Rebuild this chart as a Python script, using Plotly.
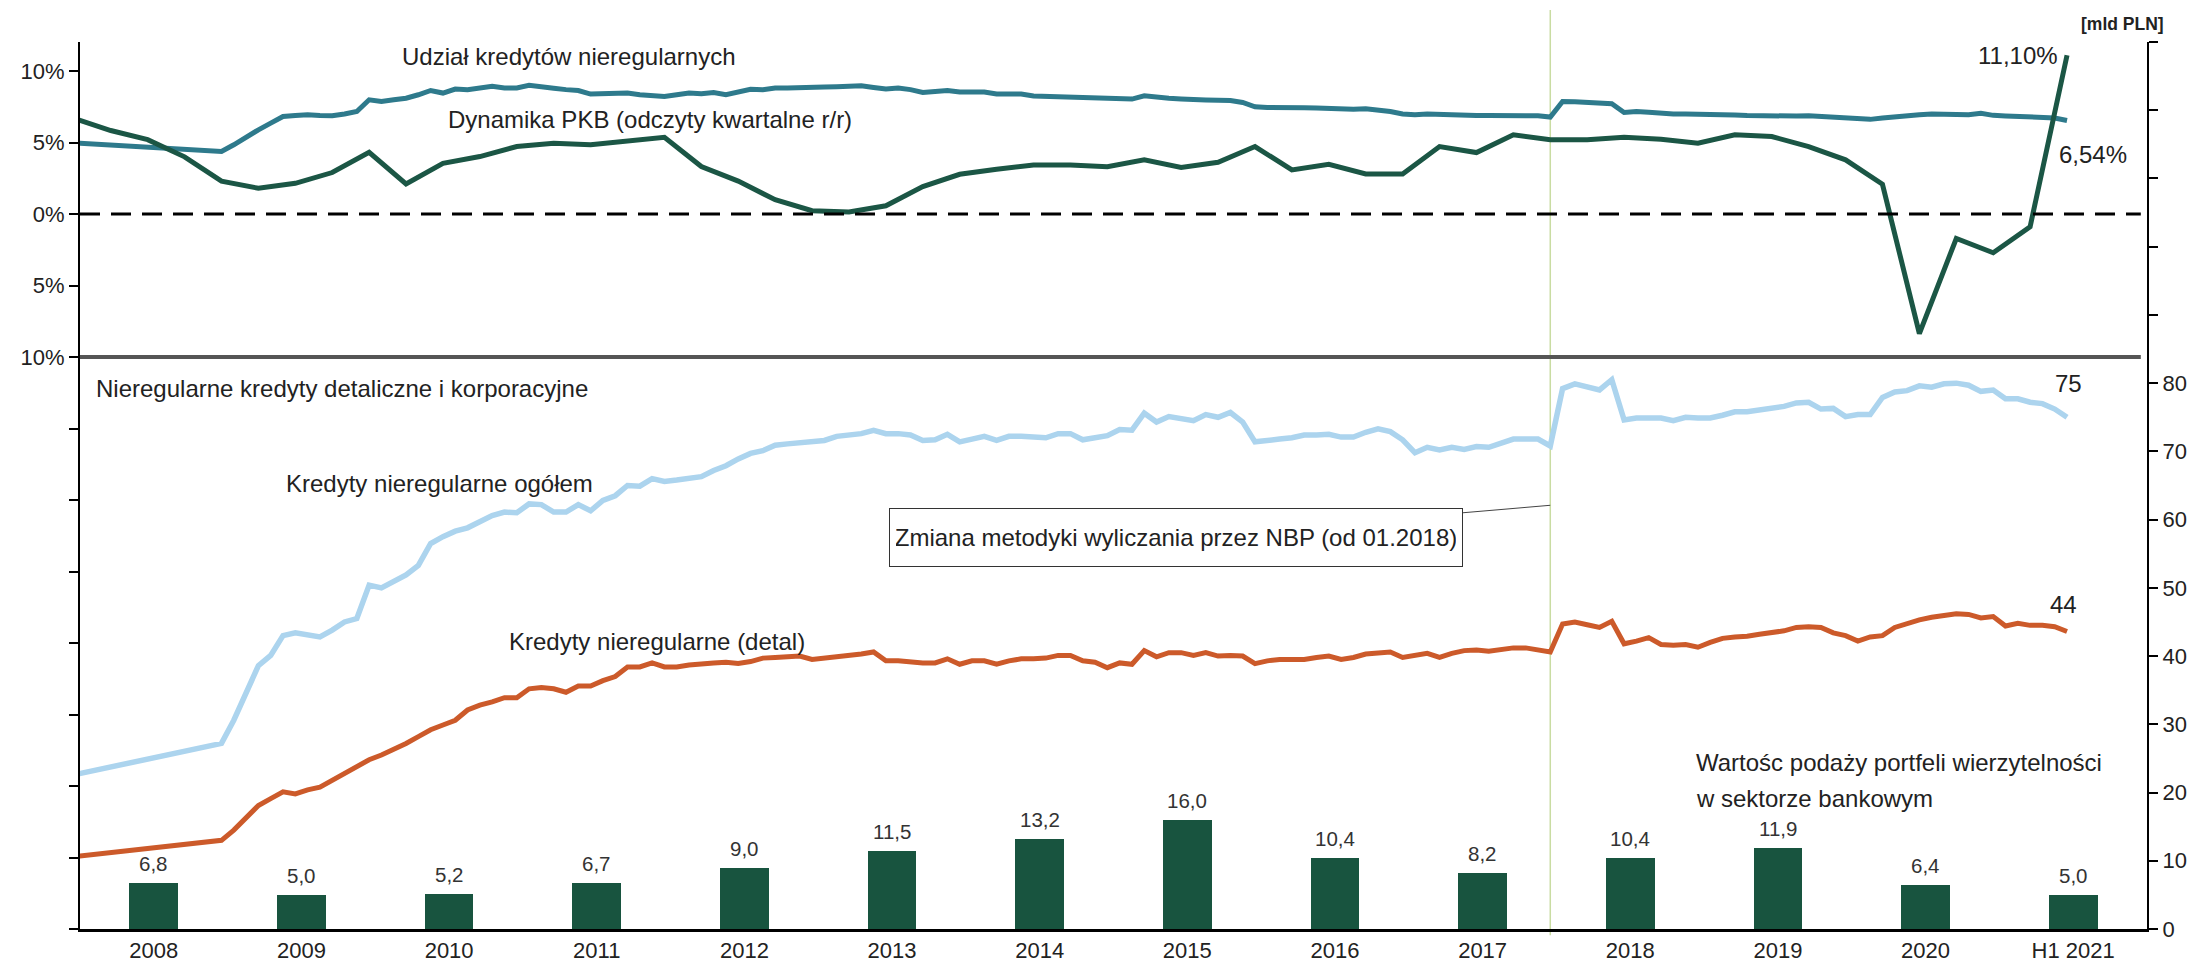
import pandas as pd
import plotly.graph_objects as go

# ---------------------------------------------------------------- data
bar_categories = ["2008", "2009", "2010", "2011", "2012", "2013", "2014",
                  "2015", "2016", "2017", "2018", "2019", "2020", "H1 2021"]
bar_years = [2008, 2009, 2010, 2011, 2012, 2013, 2014,
             2015, 2016, 2017, 2018, 2019, 2020, 2021]
# supply of debt portfolios sold by the banking sector [bn PLN]
portfolio_supply = [6.8, 5.0, 5.2, 6.7, 9.0, 11.5, 13.2, 16.0, 10.4, 8.2, 10.4, 11.9, 6.4, 5.0]

# GDP growth y/y, quarterly readings 2007Q4 .. 2021Q2 [%]
gdp_quarters = pd.period_range("2007Q4", "2021Q2", freq="Q")
gdp_yoy = [6.7,
           5.84, 5.2, 4.0, 2.3,
           1.8, 2.15, 2.9, 4.32,
           2.1, 3.55, 4.02, 4.72,
           4.95, 4.84, 5.07, 5.37,
           3.32, 2.3, 1.0, 0.23,
           0.14, 0.58, 1.92, 2.78,
           3.13, 3.43, 3.43, 3.3,
           3.79, 3.25, 3.62, 4.72,
           3.08, 3.48, 2.8, 2.8,
           4.72, 4.3, 5.54, 5.19,
           5.19, 5.37, 5.23, 4.95,
           5.54, 5.42, 4.72, 3.79,
           2.08, -8.36, -1.71, -2.71,
           -0.89, 11.10]

# monthly series: Dec 2007, then Dec 2008 .. Jun 2021
npl_months = [pd.Period("2007-12", freq="M")] + list(pd.period_range("2008-12", "2021-06", freq="M"))

npl_share = [4.97,
             4.37,
             4.84, 5.40, 5.89, 6.36, 6.82, 6.89, 6.94, 6.89, 6.87, 6.99, 7.17, 7.99,
             7.87, 7.99, 8.10, 8.34, 8.64, 8.46, 8.74, 8.69, 8.81, 8.93, 8.81, 8.81,
             9.00, 8.93, 8.80, 8.70, 8.64, 8.39, 8.39, 8.39, 8.46, 8.34, 8.27, 8.22,
             8.34, 8.46, 8.41, 8.50, 8.34, 8.55, 8.72, 8.69, 8.81, 8.81, 8.81, 8.85,
             8.88, 8.90, 8.93, 8.97, 8.85, 8.74, 8.81, 8.70, 8.50, 8.60, 8.64, 8.53,
             8.53, 8.53, 8.39, 8.39, 8.39, 8.25, 8.22, 8.22, 8.15, 8.08, 8.12, 8.10,
             8.06, 8.04, 8.27, 8.15, 8.10, 8.05, 7.99, 7.98, 7.96, 7.94, 7.80, 7.50,
             7.45, 7.47, 7.48, 7.43, 7.41, 7.38, 7.30, 7.33, 7.36, 7.28, 7.17, 7.00,
             6.95, 6.99, 6.95, 6.89, 6.89, 6.89, 6.89, 6.89, 6.89, 6.89, 6.87, 6.78,
             7.87, 7.85, 7.80, 7.75, 7.71, 7.10, 7.17, 7.12, 7.05, 7.00, 7.00, 7.00,
             6.97, 6.94, 6.92, 6.89, 6.87, 6.85, 6.82, 6.85, 6.87, 6.82, 6.75, 6.68,
             6.62, 6.62, 6.72, 6.82, 6.90, 6.95, 6.99, 7.00, 6.98, 6.94, 7.04, 6.90,
             6.86, 6.84, 6.82, 6.78, 6.72, 6.54]

npl_total = [22.6,
             27.2,
             30.6, 34.5, 38.6, 40.1, 43.0, 43.4, 43.0, 42.8, 43.8, 45.0, 45.5, 50.4,
             50.0, 51.0, 51.9, 53.3, 56.5, 57.5, 58.3, 58.8, 59.7, 60.6, 61.1, 61.0,
             62.3, 62.2, 61.1, 61.1, 62.2, 61.3, 62.8, 63.5, 65.0, 64.9, 66.0, 65.6,
             65.8, 66.1, 66.3, 67.2, 67.9, 68.9, 69.7, 70.1, 70.9, 71.1, 71.3, 71.3,
             71.6, 72.2, 72.3, 72.6, 73.1, 72.6, 72.6, 72.4, 71.6, 71.7, 72.5, 71.4,
             71.8, 72.2, 71.6, 72.2, 72.2, 72.2, 72.0, 72.6, 72.6, 71.7, 72.1, 72.3,
             73.2, 73.1, 75.6, 74.3, 75.1, 74.9, 74.5, 75.4, 75.0, 75.7, 74.3, 71.4,
             71.7, 71.8, 72.0, 72.4, 72.4, 72.5, 72.1, 72.1, 72.8, 73.3, 72.9, 71.7,
             69.8, 70.6, 70.2, 70.6, 70.3, 70.7, 70.6, 71.2, 71.8, 71.8, 71.8, 70.8,
             79.2, 79.9, 79.5, 79.0, 80.5, 74.6, 74.9, 75.0, 74.9, 74.5, 75.0, 74.9,
             74.9, 75.3, 75.8, 75.8, 76.0, 76.3, 76.6, 77.1, 77.2, 76.2, 76.3, 75.1,
             75.4, 75.4, 77.9, 78.7, 78.9, 79.6, 79.4, 79.9, 80.0, 79.7, 78.8, 79.0,
             77.7, 77.7, 77.2, 77.0, 76.2, 75.0]

npl_retail = [10.6,
              13.0,
              14.5, 16.2, 18.1, 19.1, 20.1, 19.8, 20.4, 20.8, 21.8, 22.8, 23.7, 24.8,
              25.5, 26.3, 27.2, 28.2, 29.2, 29.9, 30.6, 32.1, 32.8, 33.3, 33.9, 33.9,
              35.2, 35.4, 35.2, 34.7, 35.6, 35.6, 36.4, 37.0, 38.4, 38.4, 39.0, 38.4,
              38.4, 38.7, 38.9, 39.0, 39.1, 38.9, 39.2, 39.7, 39.8, 39.9, 40.0, 39.5,
              39.7, 39.9, 40.0, 40.3, 40.6, 39.3, 39.3, 39.1, 39.0, 39.0, 39.6, 38.8,
              39.3, 39.3, 38.8, 39.3, 39.6, 39.6, 39.7, 40.1, 40.1, 39.3, 39.1, 38.3,
              39.0, 38.8, 40.8, 39.9, 40.5, 40.5, 40.1, 40.5, 40.0, 40.1, 40.0, 38.9,
              39.3, 39.5, 39.5, 39.5, 39.8, 40.0, 39.5, 39.8, 40.3, 40.5, 40.6, 39.8,
              40.1, 40.4, 39.8, 40.4, 40.8, 40.9, 40.7, 40.9, 41.2, 41.2, 40.9, 40.6,
              44.7, 45.0, 44.6, 44.2, 45.1, 41.8, 42.2, 42.7, 41.7, 41.6, 41.7, 41.3,
              42.0, 42.6, 42.8, 42.9, 43.2, 43.4, 43.7, 44.2, 44.3, 44.2, 43.4, 43.0,
              42.2, 42.8, 43.0, 44.2, 44.8, 45.3, 45.7, 46.0, 46.2, 46.1, 45.6, 45.8,
              44.4, 44.8, 44.5, 44.5, 44.3, 43.6]

left_ticks = [10, 5, 0, -5, -10, -15, -20, -25, -30, -35, -40, -45, -50]
right_ticks = list(range(0, 140, 10))
method_change = pd.Period("2017-12", freq="M")

# ---------------------------------------------------------------- helpers
FONT = "Liberation Sans, Arial, sans-serif"
TXT = "#222222"


def month_pos(p):
    return p.year + (p.month - 0.5) / 12.0


def comma(v, nd):
    return f"{v:.{nd}f}".replace(".", ",")


x_month = [month_pos(p) for p in npl_months]
x_quarter = [month_pos(q.asfreq("M", "end")) for q in gdp_quarters]
x_bar = [y + 0.5 for y in bar_years]

# plot area in page pixels (for placing free text)
L, R, T, B = 80, 2147, 42, 929
W, H = R - L, B - T


def px(x):
    return (x - L) / W


def py(y):
    return (B - y) / H


# ---------------------------------------------------------------- figure
fig = go.Figure()

fig.add_trace(go.Bar(x=x_bar, y=portfolio_supply, yaxis="y2", width=0.33,
                     marker=dict(color="#18543f", line=dict(width=0))))

fig.add_trace(go.Scatter(x=x_month, y=npl_share, mode="lines", yaxis="y",
                         line=dict(color="#2e7a8c", width=5)))
fig.add_trace(go.Scatter(x=x_quarter, y=gdp_yoy, mode="lines", yaxis="y",
                         line=dict(color="#1b5645", width=5)))
fig.add_trace(go.Scatter(x=x_month, y=npl_total, mode="lines", yaxis="y2",
                         line=dict(color="#acd4ee", width=5.5)))
fig.add_trace(go.Scatter(x=x_month, y=npl_retail, mode="lines", yaxis="y2",
                         line=dict(color="#cc5a2a", width=5)))

shapes = [
    # methodology change marker
    dict(type="line", xref="x", yref="paper", x0=month_pos(method_change), x1=month_pos(method_change),
         y0=-0.007, y1=1.036, line=dict(color="#c9dca2", width=1.5), layer="below"),
    # zero growth line
    dict(type="line", xref="paper", yref="y", x0=0, x1=0.997, y0=0, y1=0,
         line=dict(color="black", width=3, dash="20px,11px"), layer="above"),
    # panel separator
    dict(type="line", xref="paper", yref="y", x0=0, x1=0.997, y0=-10, y1=-10,
         line=dict(color="#555555", width=4), layer="above"),
]

ann = []


def label(text, x, y, size=24, xanchor="left", **kw):
    ann.append(dict(text=text, x=px(x), y=py(y), xref="paper", yref="paper",
                    xanchor=xanchor, yanchor="middle", showarrow=False,
                    font=dict(family=FONT, size=size, color=TXT), **kw))


label("Udział kredytów nieregularnych", 400, 57)
label("Dynamika PKB (odczyty kwartalne r/r)", 446, 119)
label("Nieregularne kredyty detaliczne i korporacyjne", 94, 389)
label("Kredyty nieregularne ogółem", 284, 483)
label("Kredyty nieregularne (detal)", 507, 641)
label("Wartośc podaży portfeli wierzytelności", 1694, 762)
label("w sektorze bankowym", 1694, 798)
label("<b>[mld PLN]</b>", 2122, 24, size=17.5, xanchor="center")

# end-of-series values
ann.append(dict(x=x_quarter[-1], y=gdp_yoy[-1], xref="x", yref="y", showarrow=False,
                text=comma(gdp_yoy[-1], 2) + "%", xanchor="right", yanchor="middle", xshift=-7,
                font=dict(family=FONT, size=24, color=TXT)))
ann.append(dict(x=x_month[-1], y=npl_share[-1], xref="x", yref="y", showarrow=False,
                text=comma(npl_share[-1], 2) + "%", xanchor="left", yanchor="middle",
                xshift=-10, yshift=-34, font=dict(family=FONT, size=24, color=TXT)))
ann.append(dict(x=x_month[-1], y=npl_total[-1], xref="x", yref="y2", showarrow=False,
                text=f"{npl_total[-1]:.0f}", xanchor="center", yanchor="middle",
                xshift=1, yshift=34, font=dict(family=FONT, size=24, color=TXT)))
ann.append(dict(x=x_month[-1], y=npl_retail[-1], xref="x", yref="y2", showarrow=False,
                text=f"{npl_retail[-1]:.0f}", xanchor="center", yanchor="middle",
                xshift=-4, yshift=27, font=dict(family=FONT, size=24, color=TXT)))

# bar values
for xb, v in zip(x_bar, portfolio_supply):
    ann.append(dict(x=xb, y=v, xref="x", yref="y2", showarrow=False, text=comma(v, 1),
                    xanchor="center", yanchor="bottom", yshift=6,
                    font=dict(family=FONT, size=20.5, color="#333333")))

# methodology note with leader line
ann.append(dict(x=month_pos(method_change), y=62.1, xref="x", yref="y2",
                text="Zmiana metodyki wyliczania przez NBP (od 01.2018)",
                showarrow=True, arrowhead=0, arrowwidth=1, arrowcolor="#444444",
                ax=-374, ay=32, width=560, height=45, bordercolor="#333333",
                borderwidth=1, borderpad=6, bgcolor="white",
                font=dict(family=FONT, size=24, color=TXT)))

fig.update_layout(
    width=2194, height=966,
    margin=dict(l=L, r=2194 - R, t=T, b=966 - B, autoexpand=False),
    paper_bgcolor="white", plot_bgcolor="white", showlegend=False,
    font=dict(family=FONT, size=22, color=TXT),
    shapes=shapes, annotations=ann, bargap=0,
    xaxis=dict(range=[2008, 2022], tickvals=x_bar, ticktext=bar_categories,
               showline=True, linecolor="black", linewidth=3, ticks="",
               showgrid=False, zeroline=False, tickfont=dict(size=22, color=TXT)),
    yaxis=dict(range=[-50, 12.03], tickvals=left_ticks,
               ticktext=[f"{abs(v)}%" if v >= -10 else "" for v in left_ticks],
               ticks="outside", ticklen=9, tickwidth=1.5, tickcolor="black",
               showline=True, linecolor="black", linewidth=2,
               showgrid=False, zeroline=False, tickfont=dict(size=22, color=TXT)),
    yaxis2=dict(range=[0, 130], overlaying="y", side="right", tickvals=right_ticks,
                ticktext=[str(v) if v <= 80 else "" for v in right_ticks],
                ticks="outside", ticklen=9, tickwidth=1.5, tickcolor="black",
                showline=True, linecolor="black", linewidth=2,
                showgrid=False, zeroline=False, tickfont=dict(size=22, color=TXT)),
)

fig.write_html("out.html")
